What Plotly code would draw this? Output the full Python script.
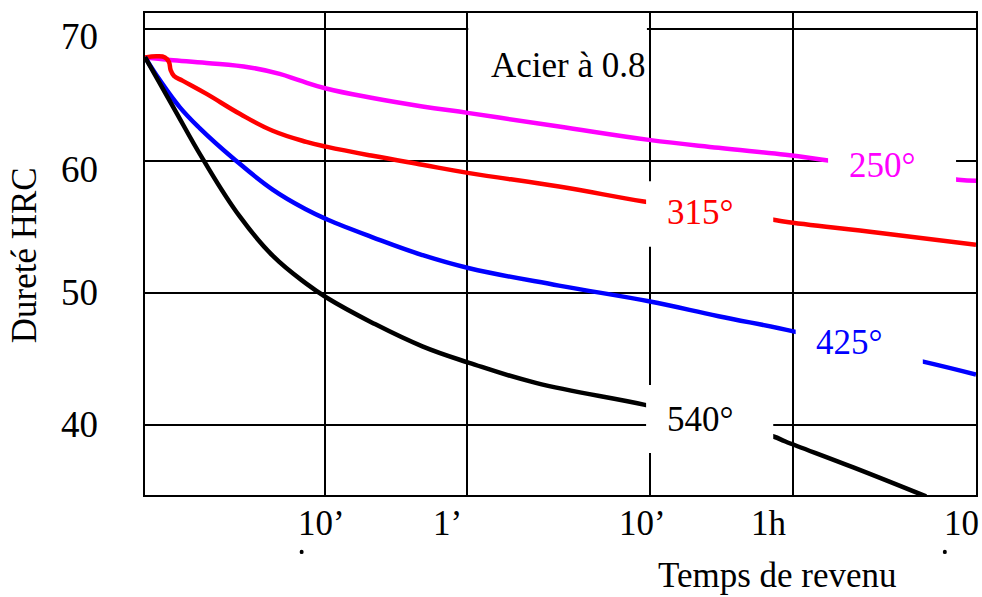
import math
import plotly.graph_objects as go

# ---- data (time in seconds, hardness in HRC) ----
time_250 = [1.047, 1.433, 2.27, 3.91, 5.69, 7.31, 10.2, 18.3, 34.2, 61.7, 190.5, 589, 1416, 3281, 5623, 13540, 28730, 36000]
hrc_250 = [67.87, 67.68, 67.45, 67.11, 66.62, 66.12, 65.51, 64.79, 64.15, 63.64, 62.62, 61.61, 61.01, 60.48, 60.05, 59.34, 58.58, 58.5]

time_315 = [1.047, 1.217, 1.346, 1.415, 1.445, 1.506, 1.686, 2.27, 3.445, 5.21, 7.95, 10.35, 18.3, 34.2, 61.7, 190.5, 553, 1250, 2823, 3281, 10535, 36000]
hrc_315 = [67.87, 67.95, 67.87, 67.53, 66.92, 66.47, 66.09, 65.10, 63.59, 62.30, 61.46, 61.08, 60.40, 59.72, 59.09, 58.07, 56.94, 56.23, 55.55, 55.40, 54.56, 53.65]

time_425 = [1.047, 1.264, 1.624, 2.087, 3.157, 5.21, 7.95, 10.35, 18.3, 34.2, 61.7, 190.5, 589, 1416, 3628, 8198, 18520, 36000]
hrc_425 = [67.89, 66.13, 64.08, 62.49, 60.24, 57.84, 56.33, 55.57, 54.22, 52.87, 51.87, 50.55, 49.36, 48.23, 47.08, 45.85, 44.78, 43.80]

time_540 = [1.047, 1.488, 2.168, 3.445, 5.21, 7.95, 10.35, 18.3, 34.2, 61.7, 142.3, 553, 1250, 2823, 3281, 7700, 19230]
hrc_540 = [67.89, 64.14, 60.15, 55.80, 52.82, 50.70, 49.61, 47.72, 45.94, 44.69, 43.17, 41.52, 40.39, 39.10, 38.72, 36.75, 34.55]

series_names = ["250°", "315°", "425°", "540°"]
series_colors = ["#FF00FF", "#FF0000", "#0000FF", "#000000"]

x_tick_vals = [10, 60, 600, 3600, 36000]
x_tick_text = ["10’", "1’", "10’", "1h", "10"]
y_tick_vals = [40, 50, 60, 70]
y_tick_text = ["40", "50", "60", "70"]

title_text = "Acier à 0.8"
x_title = "Temps de revenu"
y_title = "Dureté HRC"

FONT = "Liberation Serif, Times New Roman, serif"
FS = 35
FS_TICK = 37

fig = go.Figure()
for t, h, name, col in zip([time_250, time_315, time_425, time_540],
                           [hrc_250, hrc_315, hrc_425, hrc_540],
                           series_names, series_colors):
    fig.add_trace(go.Scatter(x=t, y=h, mode="lines", name=name,
                             line=dict(color=col, width=4.5, shape="spline", smoothing=1.2),
                             showlegend=False, hoverinfo="skip"))

fig.update_layout(
    width=982, height=597,
    margin=dict(l=145, r=4, t=13, b=102),
    paper_bgcolor="white", plot_bgcolor="white",
    font=dict(family=FONT, size=FS, color="black"),
    xaxis=dict(type="log", range=[0.02, math.log10(36000)],
               tickvals=x_tick_vals, showticklabels=False, ticks="",
               showgrid=True, gridcolor="black", gridwidth=1.6,
               showline=True, mirror=True, linecolor="black", linewidth=2,
               zeroline=False, fixedrange=True),
    yaxis=dict(range=[34.66, 71.24], tickvals=y_tick_vals, showticklabels=False, ticks="",
               showgrid=True, gridcolor="black", gridwidth=1.6,
               showline=True, mirror=True, linecolor="black", linewidth=2,
               zeroline=False, fixedrange=True),
)

# white label boxes that interrupt curves and grid (paper coords)
boxes = [
    (0.389, 0.604, 0.826, 0.973),  # Acier
    (0.822, 0.976, 0.633, 0.737),  # 250
    (0.603, 0.756, 0.515, 0.651),  # 315
    (0.783, 0.936, 0.255, 0.394),  # 425
    (0.603, 0.756, 0.087, 0.228),  # 540
]
for x0, x1, y0, y1 in boxes:
    fig.add_shape(type="rect", xref="paper", yref="paper", x0=x0, x1=x1, y0=y0, y1=y1,
                  fillcolor="white", line=dict(width=0), layer="above")

# tiny stray dots under the first and last tick labels (as in the source figure)
for cx in (0.1885, 0.9625):
    fig.add_shape(type="circle", xref="paper", yref="paper",
                  x0=cx - 0.0024, x1=cx + 0.0024, y0=-0.1225, y1=-0.1135,
                  fillcolor="black", line=dict(width=0), layer="above")

label_pos = [(0.888, 0.683), (0.669, 0.587), (0.848, 0.317), (0.669, 0.156)]
for name, col, (lx, ly) in zip(series_names, series_colors, label_pos):
    fig.add_annotation(text=name, xref="paper", yref="paper", x=lx, y=ly,
                       showarrow=False, font=dict(family=FONT, size=FS, color=col),
                       xanchor="center", yanchor="middle")

fig.add_annotation(text=title_text, xref="paper", yref="paper", x=0.510, y=0.892,
                   showarrow=False, font=dict(family=FONT, size=FS, color="black"),
                   xanchor="center", yanchor="middle")

# tick labels
x_shifts = [-3, -20, -8, -24, -15]
for v, txt, sh in zip(x_tick_vals, x_tick_text, x_shifts):
    fig.add_annotation(text=txt, xref="x", yref="paper", x=math.log10(v), y=0,
                       xshift=sh, yshift=-28, showarrow=False,
                       font=dict(family=FONT, size=FS, color="black"),
                       xanchor="center", yanchor="middle")
y_shifts = [0, 0, -8, -7]
for v, txt, sh in zip(y_tick_vals, y_tick_text, y_shifts):
    fig.add_annotation(text=txt, xref="paper", yref="y", x=0, y=v,
                       xshift=-45, yshift=sh, showarrow=False,
                       font=dict(family=FONT, size=FS_TICK, color="black"),
                       xanchor="right", yanchor="middle")

fig.add_annotation(text=x_title, xref="paper", yref="paper", x=0.761, y=0, yshift=-80,
                   showarrow=False, font=dict(family=FONT, size=FS, color="black"),
                   xanchor="center", yanchor="middle")
fig.add_annotation(text=y_title, xref="paper", yref="paper", x=-0.144, y=0.498,
                   textangle=-90, showarrow=False,
                   font=dict(family=FONT, size=FS, color="black"),
                   xanchor="center", yanchor="middle")

fig.write_html("out.html", config={"displayModeBar": False},
               post_script="document.body.style.margin='0px';document.body.style.overflow='hidden';")
